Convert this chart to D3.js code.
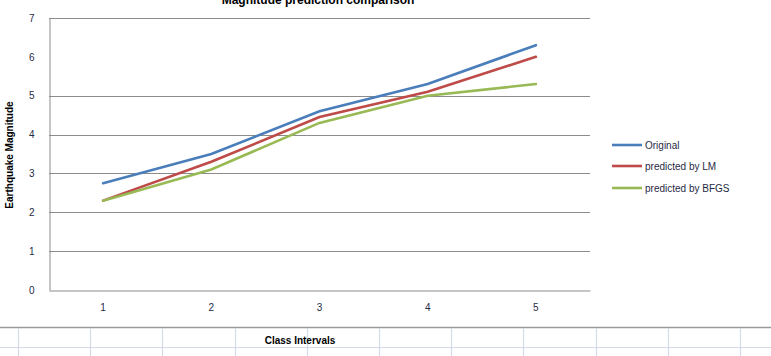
<!DOCTYPE html>
<html><head><meta charset="utf-8">
<script src="https://cdn.jsdelivr.net/npm/d3@7"></script>
<style>body{margin:0;background:#fff}svg{display:block}</style>
</head><body>
<script>
const categories = [1, 2, 3, 4, 5];
const original = [2.75, 3.5, 4.6, 5.3, 6.3];
const predictedLM = [2.3, 3.3, 4.45, 5.1, 6.0];
const predictedBFGS = [2.3, 3.1, 4.3, 5.0, 5.3];
const yTicks = [0, 1, 2, 3, 4, 5, 6, 7];
const gridValues = [1, 2, 3, 4, 5, 7];
const seriesNames = ["Original", "predicted by LM", "predicted by BFGS"];
const colors = ["#4a7ebb", "#be4b48", "#98b954"];
const seriesData = [original, predictedLM, predictedBFGS];

(function () {
const W = 771, H = 356;
const svg = d3.select("body").append("svg").attr("width", W).attr("height", H);
const font = "'Liberation Sans', Arial, sans-serif";

// spreadsheet cells in background
const cellXs = d3.range(18, W, 72.2);
svg.append("line").attr("x1", 0).attr("x2", W).attr("y1", 327.5).attr("y2", 327.5).attr("stroke", "#9a9a9a").attr("stroke-width", 1.5);
svg.append("line").attr("x1", 0).attr("x2", W).attr("y1", 347.5).attr("y2", 347.5).attr("stroke", "#d5dbe6").attr("stroke-width", 1.2);
svg.selectAll("line.cell").data(cellXs).join("line").attr("class", "cell")
  .attr("x1", d => Math.round(d) + 0.5).attr("x2", d => Math.round(d) + 0.5)
  .attr("y1", 328).attr("y2", 356).attr("stroke", "#d5dbe6").attr("stroke-width", 1.2);

const pl = 49, pr = 590, pt = 18, pb = 290;
const x = d3.scaleBand().domain(categories).range([pl, pr]);
const y = d3.scaleLinear().domain([0, 7]).range([pb, pt]);

// gridlines
svg.selectAll("line.grid").data(gridValues).join("line").attr("class", "grid")
  .attr("x1", pl).attr("x2", pr)
  .attr("y1", d => Math.round(y(d)) + 0.5).attr("y2", d => Math.round(y(d)) + 0.5)
  .attr("stroke", "#8c8c8c").attr("stroke-width", 1);

// axes
const yAxis = svg.append("g").attr("transform", `translate(${pl + 0.5},0)`)
  .call(d3.axisLeft(y).tickValues(yTicks).tickFormat(d3.format("d")).tickSize(0).tickPadding(15));
yAxis.select(".domain").attr("stroke", "#8c8c8c");
yAxis.selectAll("text").attr("font-family", font).attr("font-size", 10).attr("fill", "#1f2a44");

const xAxis = svg.append("g").attr("transform", `translate(0,${Math.round(pb) + 0.5})`)
  .call(d3.axisBottom(x).tickSize(0).tickPadding(13));
xAxis.select(".domain").attr("stroke", "#8c8c8c");
xAxis.selectAll("text").attr("font-family", font).attr("font-size", 10).attr("fill", "#1f2a44");

// lines
const line = d3.line().x((d, i) => x(categories[i]) + x.bandwidth() / 2).y(d => y(d));
svg.selectAll("path.series").data(seriesData).join("path").attr("class", "series")
  .attr("d", line).attr("fill", "none")
  .attr("stroke", (d, i) => colors[i]).attr("stroke-width", 2.6).attr("stroke-linecap", "round");

// title
svg.append("text").attr("x", 318).attr("y", 4).attr("text-anchor", "middle")
  .attr("font-family", font).attr("font-size", 12).attr("font-weight", "bold").attr("fill", "#000")
  .text("Magnitude prediction comparison");

// y axis title
svg.append("text").attr("transform", "translate(13,155) rotate(-90)").attr("text-anchor", "middle")
  .attr("font-family", font).attr("font-size", 10).attr("font-weight", "bold").attr("fill", "#000")
  .text("Earthquake Magnitude");

// x axis title
svg.append("text").attr("x", 300).attr("y", 344).attr("text-anchor", "middle")
  .attr("font-family", font).attr("font-size", 10).attr("font-weight", "bold").attr("fill", "#000")
  .text("Class Intervals");

// legend
const legendY = [145, 166, 188];
const lg = svg.selectAll("g.leg").data(seriesNames).join("g").attr("class", "leg")
  .attr("transform", (d, i) => `translate(612,${legendY[i]})`);
lg.append("line").attr("x1", 0).attr("x2", 30).attr("y1", 0).attr("y2", 0)
  .attr("stroke", (d, i) => colors[i]).attr("stroke-width", 2.6);
lg.append("text").attr("x", 33).attr("y", 4).attr("font-family", font).attr("font-size", 10)
  .attr("fill", "#1f2a44").text(d => d);
})();
</script>
</body></html>
